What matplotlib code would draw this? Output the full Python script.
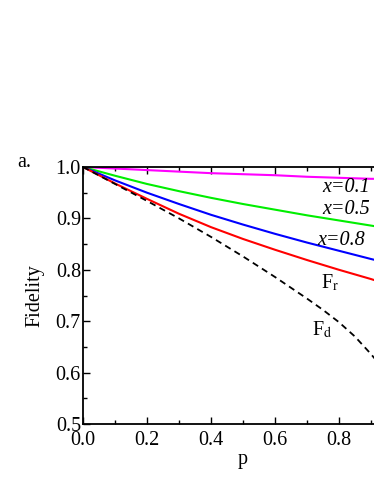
import numpy as np
import matplotlib.pyplot as plt
from matplotlib.ticker import MultipleLocator

# values
p = [0.0, 0.1, 0.2, 0.3, 0.4, 0.5, 0.6, 0.7, 0.75, 0.8, 0.85, 0.9, 0.92]
f_x01 = [1.0, 0.997, 0.994, 0.991, 0.988, 0.986, 0.984, 0.981, 0.980, 0.979, 0.978, 0.977, 0.977]
f_x05 = [1.0, 0.983, 0.967, 0.953, 0.940, 0.928, 0.917, 0.906, 0.901, 0.896, 0.891, 0.886, 0.884]
f_x08 = [1.0, 0.974, 0.950, 0.928, 0.907, 0.888, 0.870, 0.853, 0.845, 0.837, 0.829, 0.821, 0.818]
f_r = [1.0, 0.968, 0.938, 0.909, 0.883, 0.860, 0.839, 0.819, 0.8095, 0.800, 0.791, 0.782, 0.778]
f_d = [1.0, 0.967, 0.934, 0.900, 0.864, 0.826, 0.786, 0.744, 0.722, 0.698, 0.670, 0.636, 0.621]

plt.rcParams['font.family'] = ['Liberation Serif', 'DejaVu Serif']
plt.rcParams['mathtext.fontset'] = 'stix'

fig = plt.figure(figsize=(3.74, 4.84), dpi=100)
# axes run past the right edge, like the cropped original
ax = fig.add_axes([83 / 374, 60 / 484, 320 / 374, 257 / 484])

ax.plot(p, f_x01, color='#ff00ff', lw=1.5)
ax.plot(p, f_x05, color='#00ee00', lw=1.5)
ax.plot(p, f_x08, color='#0000ff', lw=1.5)
ax.plot(p, f_r, color='#ff0000', lw=1.5)
ax.plot(p, f_d, color='black', lw=1.3, ls=(0, (3.5, 2.5)))

ax.set_xlim(0, 1.0)
ax.set_ylim(0.5, 1.0)
ax.xaxis.set_major_locator(MultipleLocator(0.2))
ax.xaxis.set_minor_locator(MultipleLocator(0.1))
ax.yaxis.set_major_locator(MultipleLocator(0.1))
ax.yaxis.set_minor_locator(MultipleLocator(0.05))
# the 1.0 label falls outside the cropped figure anyway
ax.xaxis.set_major_formatter(lambda v, pos: '%.1f' % v if v < 0.95 else '')
ax.yaxis.set_major_formatter(lambda v, pos: '%.1f' % v)
ax.tick_params(which='both', direction='in', top=True, right=False, labelsize=14.5, width=1.0)
ax.tick_params(which='major', length=5)
ax.tick_params(axis='x', which='major', pad=5)
ax.tick_params(axis='y', which='major', pad=1.5)
ax.tick_params(which='minor', length=3)
for s in ax.spines.values():
    s.set_linewidth(1.3)

ax.set_xlabel('p', fontsize=14.5, labelpad=0)
ax.set_ylabel('Fidelity', fontsize=14.5, labelpad=8)

ax.text(0.897, 0.952, 'x=0.1', style='italic', fontsize=14.5, ha='right', va='baseline')
ax.text(0.897, 0.908, 'x=0.5', style='italic', fontsize=14.5, ha='right', va='baseline')
ax.text(0.882, 0.848, 'x=0.8', style='italic', fontsize=14.5, ha='right', va='baseline')
ax.text(0.745, 0.764, r'F$_{\rm r}$', fontsize=14.5, ha='left', va='baseline')
ax.text(0.717, 0.673, r'F$_{\rm d}$', fontsize=14.5, ha='left', va='baseline')

fig.text(17 / 374, 1 - 167 / 484, 'a.', fontsize=14.5, va='baseline')

fig.savefig('out.png', dpi=100)
